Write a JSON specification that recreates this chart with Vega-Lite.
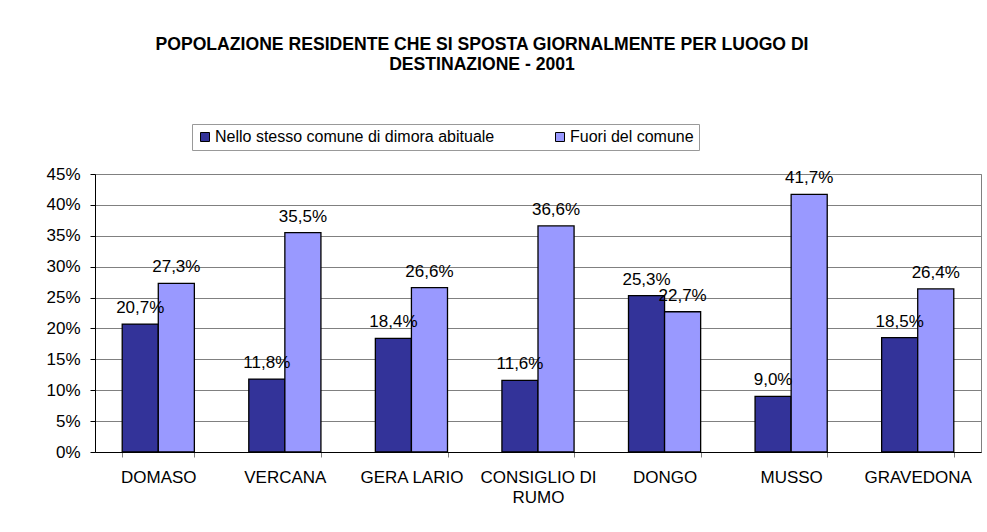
{
  "$schema": "https://vega.github.io/schema/vega-lite/v6.json",
  "width": 886,
  "height": 278,
  "autosize": {"type": "none"},
  "padding": {"left": 95, "top": 174, "right": 6, "bottom": 80},
  "background": "white",
  "config": {
    "font": "Liberation Sans",
    "locale": {"number": {"decimal": ",", "thousands": ".", "grouping": [3], "currency": ["€", ""]}},
    "view": {"stroke": "#808080", "strokeWidth": 1}
  },
  "title": {
    "text": ["POPOLAZIONE RESIDENTE CHE SI SPOSTA GIORNALMENTE PER LUOGO DI", "DESTINAZIONE - 2001"],
    "font": "Liberation Sans",
    "fontSize": 17.6,
    "fontWeight": "bold",
    "color": "#000000",
    "anchor": "middle",
    "dx": -56,
    "offset": 50,
    "lineHeight": 20
  },
  "data": {
    "values": [
      {"comune": "DOMASO", "tipo": "Nello stesso comune di dimora abituale", "valore": 0.207},
      {"comune": "DOMASO", "tipo": "Fuori del comune", "valore": 0.273},
      {"comune": "VERCANA", "tipo": "Nello stesso comune di dimora abituale", "valore": 0.118},
      {"comune": "VERCANA", "tipo": "Fuori del comune", "valore": 0.355},
      {"comune": "GERA LARIO", "tipo": "Nello stesso comune di dimora abituale", "valore": 0.184},
      {"comune": "GERA LARIO", "tipo": "Fuori del comune", "valore": 0.266},
      {"comune": "CONSIGLIO DI RUMO", "tipo": "Nello stesso comune di dimora abituale", "valore": 0.116},
      {"comune": "CONSIGLIO DI RUMO", "tipo": "Fuori del comune", "valore": 0.366},
      {"comune": "DONGO", "tipo": "Nello stesso comune di dimora abituale", "valore": 0.253},
      {"comune": "DONGO", "tipo": "Fuori del comune", "valore": 0.227},
      {"comune": "MUSSO", "tipo": "Nello stesso comune di dimora abituale", "valore": 0.090},
      {"comune": "MUSSO", "tipo": "Fuori del comune", "valore": 0.417},
      {"comune": "GRAVEDONA", "tipo": "Nello stesso comune di dimora abituale", "valore": 0.185},
      {"comune": "GRAVEDONA", "tipo": "Fuori del comune", "valore": 0.264}
    ]
  },
  "encoding": {
    "x": {
      "field": "comune",
      "type": "nominal",
      "sort": null,
      "scale": {"paddingInner": 0.43, "paddingOuter": 0.215},
      "axis": {
        "title": null,
        "labelAngle": 0,
        "labelFontSize": 17,
        "labelColor": "#000000",
        "labelLineHeight": 20,
        "labelPadding": 12,
        "labelLimit": 0,
        "labelExpr": "datum.label == 'CONSIGLIO DI RUMO' ? ['CONSIGLIO DI', 'RUMO'] : datum.label",
        "tickBand": "extent",
        "tickSize": 5,
        "tickColor": "#808080",
        "domainColor": "#000000",
        "grid": false
      }
    },
    "xOffset": {
      "field": "tipo",
      "type": "nominal",
      "sort": ["Nello stesso comune di dimora abituale", "Fuori del comune"],
      "scale": {"paddingInner": 0, "paddingOuter": 0}
    },
    "y": {
      "field": "valore",
      "type": "quantitative",
      "scale": {"domain": [0, 0.45], "nice": false},
      "axis": {
        "title": null,
        "format": ".0%",
        "values": [0, 0.05, 0.1, 0.15, 0.2, 0.25, 0.3, 0.35, 0.4, 0.45],
        "labelFontSize": 17,
        "labelColor": "#000000",
        "labelPadding": 10,
        "tickSize": 5,
        "tickColor": "#000000",
        "domainColor": "#000000",
        "grid": true,
        "gridColor": "#808080",
        "gridWidth": 1
      }
    }
  },
  "layer": [
    {
      "mark": {"type": "bar", "stroke": "#000000", "strokeWidth": 1.3},
      "encoding": {
        "color": {
          "field": "tipo",
          "type": "nominal",
          "scale": {"domain": ["Nello stesso comune di dimora abituale", "Fuori del comune"], "range": ["#333399", "#9999FF"]},
          "legend": {
            "orient": "none",
            "direction": "horizontal",
            "legendX": 97,
            "legendY": -50,
            "title": null,
            "padding": 5,
            "strokeColor": "#999999",
            "fillColor": "#ffffff",
            "symbolType": "square",
            "symbolSize": 81,
            "symbolStrokeColor": "#000000",
            "symbolStrokeWidth": 1,
            "labelFontSize": 16,
            "labelColor": "#000000",
            "labelOffset": 2,
            "labelLimit": 0,
            "columnPadding": 57
          }
        }
      }
    },
    {
      "mark": {"type": "text", "baseline": "alphabetic", "dy": -11, "fontSize": 17, "color": "#000000"},
      "encoding": {
        "text": {"field": "valore", "type": "quantitative", "format": ".1%"}
      }
    }
  ]
}
